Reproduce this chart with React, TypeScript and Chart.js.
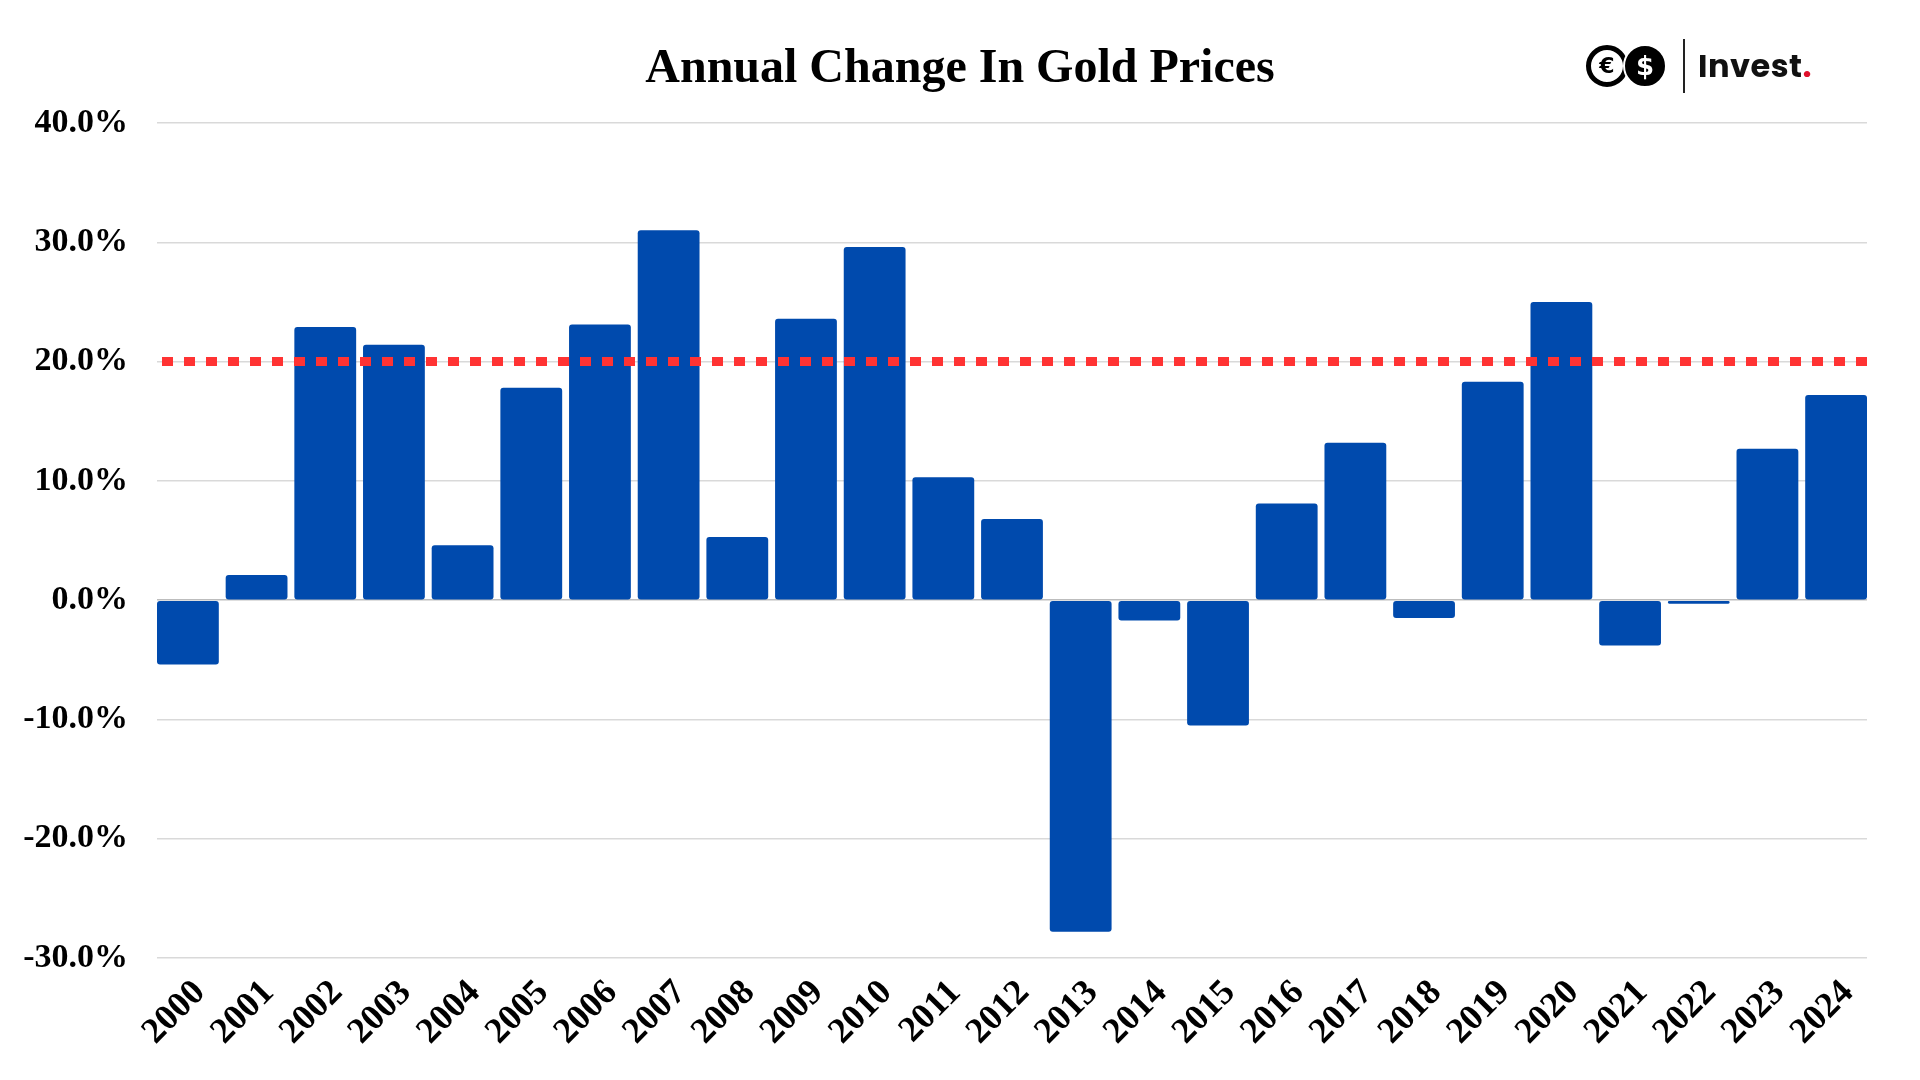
import React, { useEffect, useRef } from "react";
import { Chart, registerables } from "chart.js";

Chart.register(...registerables);

const years = ["2000","2001","2002","2003","2004","2005","2006","2007","2008","2009","2010","2011","2012","2013","2014","2015","2016","2017","2018","2019","2020","2021","2022","2023","2024"];
const annualChange = [-5.4, 2.1, 22.9, 21.4, 4.6, 17.8, 23.1, 31.0, 5.3, 23.6, 29.6, 10.3, 6.8, -27.8, -1.7, -10.5, 8.1, 13.2, -1.5, 18.3, 25.0, -3.8, -0.3, 12.7, 17.2];
const threshold = 20;
const yMin = -30;
const yMax = 40;
const yStep = 10;
const titleText = "Annual Change In Gold Prices";

const SERIF = "'Liberation Serif', 'Times New Roman', serif";
const BAR_PCT = 0.9;

const thresholdPlugin = {
  id: "thresholdLine",
  afterDatasetsDraw(chart: any) {
    const { ctx, chartArea, scales } = chart;
    const py = scales.y.getPixelForValue(threshold);
    ctx.save();
    ctx.strokeStyle = "#ff3333";
    ctx.lineWidth = 9;
    ctx.setLineDash([11, 11]);
    ctx.beginPath();
    ctx.moveTo(chartArea.left + 5, py);
    ctx.lineTo(chartArea.right, py);
    ctx.stroke();
    ctx.restore();
  },
};

function Logo() {
  return (
    <div style={{ position: "absolute", left: 1586, top: 38, height: 56, display: "flex", alignItems: "center" }}>
      <div style={{ position: "relative", width: 82, height: 44 }}>
        <div style={{ position: "absolute", left: 0, top: 1, width: 32, height: 32, borderRadius: "50%", border: "5px solid #000", background: "#fff", display: "flex", alignItems: "center", justifyContent: "center", fontFamily: "'DejaVu Sans', sans-serif", fontWeight: 700, fontSize: 22, color: "#000", lineHeight: 1 }}>€</div>
        <div style={{ position: "absolute", left: 37, top: 0, width: 40, height: 40, borderRadius: "50%", border: "2px solid #fff", background: "#000", display: "flex", alignItems: "center", justifyContent: "center", fontFamily: "'DejaVu Sans', sans-serif", fontWeight: 700, fontSize: 26, color: "#fff", lineHeight: 1 }}>$</div>
      </div>
      <div style={{ width: 2, height: 54, background: "#222", marginLeft: 15, marginRight: 13 }} />
      <div style={{ fontFamily: "'Poppins', 'Inter', 'Noto Sans', sans-serif", fontWeight: 700, fontSize: 32, color: "#111", letterSpacing: 0.5 }}>
        Invest<span style={{ color: "#e0102b" }}>.</span>
      </div>
    </div>
  );
}

export default function App() {
  const canvasRef = useRef<HTMLCanvasElement | null>(null);

  useEffect(() => {
    if (!canvasRef.current) return;
    const chart = new Chart(canvasRef.current, {
      type: "bar",
      data: {
        labels: years,
        datasets: [
          {
            data: annualChange,
            backgroundColor: "#004aad",
            borderWidth: 0,
            borderRadius: 3,
            borderSkipped: false,
            categoryPercentage: 1.0,
            barPercentage: BAR_PCT,
          },
        ],
      },
      options: {
        animation: false,
        responsive: true,
        maintainAspectRatio: false,
        layout: { padding: { left: 0, right: 53, top: 123, bottom: 0 } },
        plugins: {
          legend: { display: false },
          tooltip: { enabled: false },
          title: { display: false },
        },
        scales: {
          x: {
            grid: { display: false, drawTicks: false },
            border: { display: false },
            ticks: {
              color: "#000",
              font: { family: SERIF, size: 36, weight: "bold" },
              minRotation: 45,
              maxRotation: 45,
              autoSkip: false,
              padding: 14,
              labelOffset: 12,
            },
            afterBuildTicks(scale: any) {
              scale._startValue = -BAR_PCT / 2;
              scale._valueRange = years.length - 1 + BAR_PCT;
            },
            afterFit(scale: any) {
              scale.height = 122;
            },
          },
          y: {
            min: yMin,
            max: yMax,
            grid: {
              color: (c: any) => (c.tick && c.tick.value === 0 ? "#bdbdbd" : "#d9d9d9"),
              lineWidth: 1.5,
              drawTicks: false,
            },
            border: { display: false },
            ticks: {
              stepSize: yStep,
              color: "#000",
              font: { family: SERIF, size: 34, weight: "bold" },
              padding: 29,
              callback: (v: any) => Number(v).toFixed(1) + "%",
            },
            afterFit(scale: any) {
              scale.width = 157;
            },
          },
        },
      },
      plugins: [thresholdPlugin],
    });
    return () => chart.destroy();
  }, []);

  return (
    <div style={{ position: "fixed", left: 0, top: 0, width: 1920, height: 1080, background: "#fff" }}>
      <canvas ref={canvasRef} />
      <div style={{ position: "absolute", left: 0, top: 37, width: 1920, textAlign: "center", fontFamily: SERIF, fontWeight: 700, fontSize: 48, lineHeight: "58px", color: "#000" }}>
        {titleText}
      </div>
      <Logo />
    </div>
  );
}
